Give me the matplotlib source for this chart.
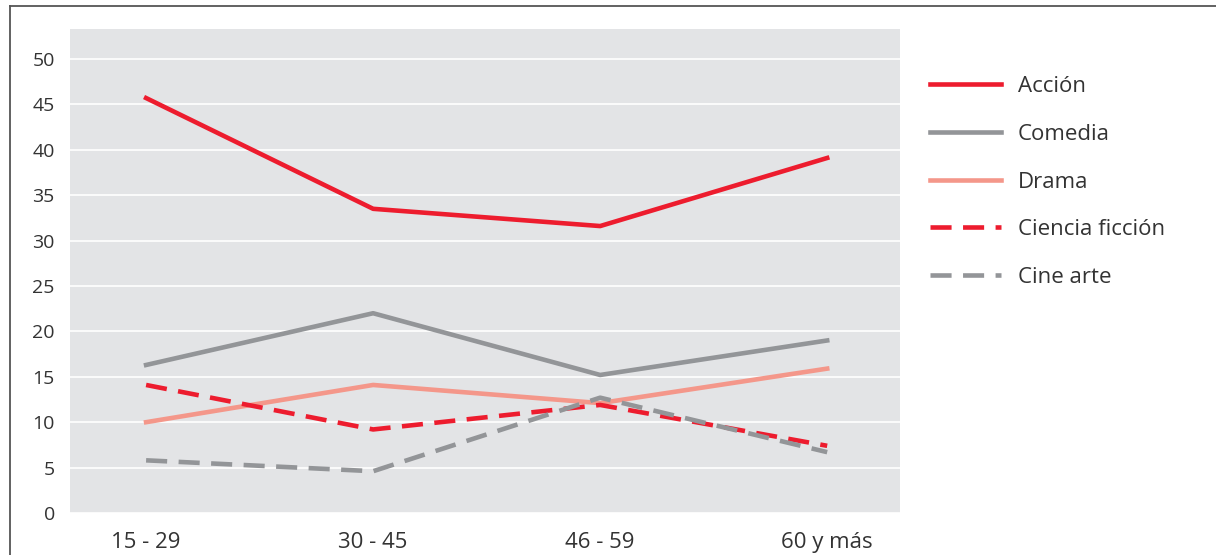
import numpy as np
import matplotlib.pyplot as plt
from matplotlib.lines import Line2D

# Age groups and share (%) of preferred genre
age_groups = ["15 - 29", "30 - 45", "46 - 59", "60 y más"]
accion = [45.7, 33.5, 31.6, 39.1]
comedia = [16.3, 22.0, 15.2, 19.0]
drama = [10.0, 14.1, 12.1, 15.9]
ciencia_ficcion = [14.1, 9.2, 11.9, 7.4]
cine_arte = [5.8, 4.6, 12.7, 6.7]

red = "#ED1C2E"
grey = "#939598"
salmon = "#F4978A"
text_col = "#333333"

plt.rcParams['font.family'] = ['Open Sans', 'DejaVu Sans']

fig = plt.figure(figsize=(12.16, 5.55), dpi=100)
ax = fig.add_axes([0.0576, 0.0757, 0.6824, 0.872])
ax.set_facecolor("#E3E4E6")

x = np.arange(len(age_groups))
lw = 3.3
dash = (0, (4.6, 2.5))
ax.plot(x, accion, color=red, lw=lw, label="Acción")
ax.plot(x, comedia, color=grey, lw=lw, label="Comedia")
ax.plot(x, drama, color=salmon, lw=lw, label="Drama")
ax.plot(x, ciencia_ficcion, color=red, lw=lw, ls=dash, label="Ciencia ficción")
ax.plot(x, cine_arte, color=grey, lw=lw, ls=dash, label="Cine arte")

ax.set_xlim(-0.335, 3.32)
ax.set_ylim(0, 53.3)
ax.set_yticks(range(0, 51, 5))
ax.set_xticks(x)
ax.set_xticklabels(age_groups)
ax.yaxis.grid(True, color="white", lw=1.2)
ax.set_axisbelow(True)
for s in ax.spines.values():
    s.set_visible(False)
ax.tick_params(axis="y", length=0, pad=11, labelsize=14, labelcolor=text_col)
ax.tick_params(axis="x", length=0, pad=14, labelsize=16, labelcolor=text_col)

leg = ax.legend(loc="upper left", bbox_to_anchor=(0.7652, 0.8626),
                bbox_transform=fig.transFigure, frameon=False,
                fontsize=16, handlelength=3.17, handletextpad=0.75,
                labelspacing=1.2, borderaxespad=0, borderpad=0)
for t in leg.get_texts():
    t.set_color(text_col)

# outer frame: top and left rules
fig.add_artist(Line2D([0.0082, 1.0], [0.989, 0.989], color="#555555", lw=1.3))
fig.add_artist(Line2D([0.0082, 0.0082], [0.0, 0.989], color="#555555", lw=1.3))

fig.savefig("out.png", dpi=100)
